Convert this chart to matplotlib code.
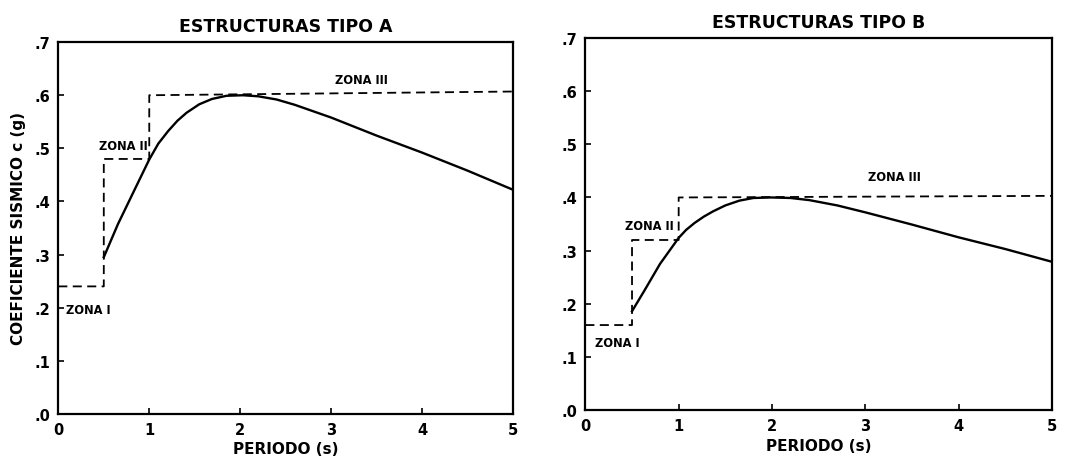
import matplotlib
matplotlib.use('Agg')
import matplotlib.pyplot as plt

# Periodos
periodo_a = [0.5, 0.655, 0.83, 1.0, 1.1, 1.21, 1.31, 1.41, 1.55, 1.69, 1.85, 2.03, 2.2, 2.4, 2.6, 2.8, 3.0, 3.5, 4.0, 4.5, 5.0]
coef_a = [0.295, 0.357, 0.419, 0.479, 0.509, 0.533, 0.552, 0.567, 0.583, 0.593, 0.599, 0.600, 0.598, 0.592, 0.582, 0.570, 0.558, 0.524, 0.492, 0.458, 0.422]

periodo_b = [0.5, 0.63, 0.8, 1.0, 1.08, 1.17, 1.27, 1.37, 1.5, 1.65, 1.8, 1.99, 2.2, 2.4, 2.7, 3.0, 3.5, 4.0, 4.5, 5.0]
coef_b = [0.186, 0.224, 0.275, 0.324, 0.339, 0.352, 0.364, 0.374, 0.385, 0.394, 0.399, 0.400, 0.399, 0.395, 0.385, 0.372, 0.349, 0.325, 0.303, 0.279]

# Escalones de zona (codigo)
escalon_t = [0.0, 0.5, 0.5, 1.0, 1.0, 5.0]
escalon_a = [0.24, 0.24, 0.48, 0.48, 0.60, 0.607]
escalon_b = [0.16, 0.16, 0.32, 0.32, 0.40, 0.403]

etiquetas_y = ['.0', '.1', '.2', '.3', '.4', '.5', '.6', '.7']

plt.rcParams['font.family'] = 'DejaVu Sans'
plt.rcParams['font.weight'] = 'bold'

fig = plt.figure(figsize=(10.8, 4.64), dpi=100)
ax1 = fig.add_axes([0.054, 0.106, 0.421, 0.801])
ax2 = fig.add_axes([0.542, 0.114, 0.432, 0.802])

paneles = [
    (ax1, periodo_a, coef_a, escalon_a, 'ESTRUCTURAS TIPO A',
     [('ZONA I', 0.08, 0.197, 'left'), ('ZONA II', 0.98, 0.506, 'right'), ('ZONA III', 3.04, 0.63, 'left')]),
    (ax2, periodo_b, coef_b, escalon_b, 'ESTRUCTURAS TIPO B',
     [('ZONA I', 0.1, 0.128, 'left'), ('ZONA II', 0.95, 0.347, 'right'), ('ZONA III', 3.03, 0.439, 'left')]),
]

for ax, t, c, esc, titulo, zonas in paneles:
    ax.plot(t, c, color='black', lw=1.7, solid_joinstyle='round')
    ax.plot(escalon_t, esc, color='black', lw=1.3, linestyle=(0, (5, 3)))
    for texto, x, y, ha in zonas:
        ax.text(x, y, texto, fontsize=8.3, fontweight='bold', ha=ha, va='center')
    ax.set_xlim(0, 5)
    ax.set_ylim(0, 0.7)
    ax.set_xticks(range(6))
    ax.set_yticks([i / 10 for i in range(8)])
    ax.set_yticklabels(etiquetas_y)
    ax.tick_params(direction='in', length=4, width=1.2, labelsize=10.5, pad=6)
    for s in ax.spines.values():
        s.set_linewidth(1.6)
    ax.set_title(titulo, fontsize=12.5, fontweight='bold', pad=8)
    ax.set_xlabel('PERIODO (s)', fontsize=11, fontweight='bold', labelpad=3)

ax1.set_ylabel('COEFICIENTE SISMICO c (g)', fontsize=11, fontweight='bold', labelpad=6)

fig.savefig('out.png', dpi=100)
